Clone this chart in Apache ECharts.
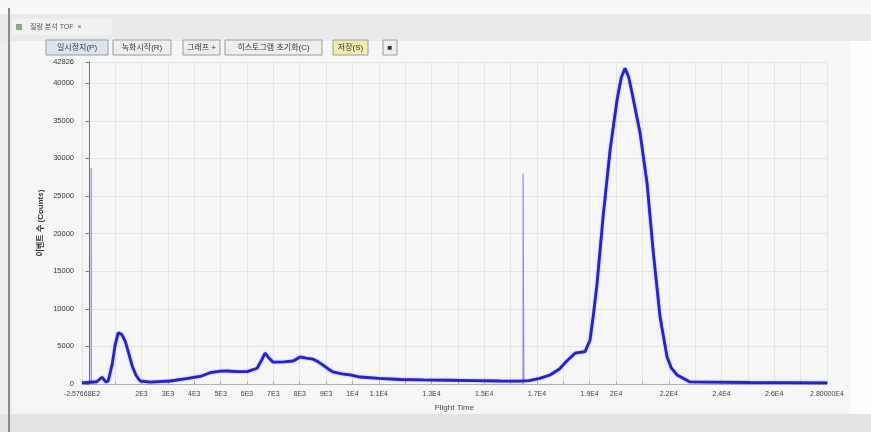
<!DOCTYPE html>
<html><head><meta charset="utf-8">
<script src="https://cdn.jsdelivr.net/npm/echarts@6/dist/echarts.min.js"></script>
<style>html,body{margin:0;padding:0;background:#efefef;}#c{width:871px;height:432px;}</style>
</head><body><div id="c"></div>
<script>
// ---- data ----
const X_MIN = -257.668;
const X_MAX = 28000;
const Y_MAX = 42826;

const flightTime = [-257.668, 300, 500, 650, 736, 887, 1000, 1115, 1250, 1380, 1520, 1646, 1800, 1949, 2328, 3086, 3700, 4223, 4602, 5000, 5247, 5650, 6006, 6385, 6560, 6688, 6820, 6992, 7400, 7750, 8016, 8250, 8509, 8700, 8888, 9080, 9267, 9600, 9912, 10291, 11000, 11808, 12700, 13704, 14600, 15600, 16358, 16700, 17100, 17496, 17850, 18141, 18444, 18824, 19013, 19150, 19279, 19506, 19772, 20037, 20200, 20340, 20480, 20606, 20909, 21175, 21403, 21668, 21934, 22100, 22313, 22806, 23500, 25081, 26500, 28000];
const counts     = [150, 300, 900, 250, 400, 2600, 5200, 6800, 6600, 5700, 4000, 2400, 1100, 400, 250, 400, 700, 1000, 1500, 1700, 1730, 1650, 1650, 2100, 3200, 4100, 3500, 2900, 2950, 3060, 3600, 3450, 3300, 2950, 2500, 2000, 1600, 1350, 1200, 930, 750, 600, 550, 500, 450, 400, 380, 450, 750, 1200, 2000, 3100, 4100, 4300, 5850, 9500, 13400, 22200, 31100, 37800, 40800, 42000, 40800, 38700, 33400, 26700, 17800, 8900, 3600, 2100, 1200, 270, 250, 200, 180, 150];

const spikeTime   = [91, 91, 96, null, 16472, 16472, 16500];
const spikeCounts = [0, 28700, 300, null, 0, 28000, 400];

const xGridValues  = [X_MIN, 1000, 2000, 3000, 4000, 5000, 6000, 7000, 8000, 9000, 10000, 11000, 12000, 13000, 14000, 15000, 16000, 17000, 18000, 19000, 20000, 21000, 22000, 23000, 24000, 25000, 26000, 27000, 28000];
const xLabelValues = [X_MIN, 2000, 3000, 4000, 5000, 6000, 7000, 8000, 9000, 10000, 11000, 13000, 15000, 17000, 19000, 20000, 22000, 24000, 26000, 28000];
const xLabelTexts  = ['-2.57668E2', '2E3', '3E3', '4E3', '5E3', '6E3', '7E3', '8E3', '9E3', '1E4', '1.1E4', '1.3E4', '1.5E4', '1.7E4', '1.9E4', '2E4', '2.2E4', '2.4E4', '2.6E4', '2.80000E4'];
const yTickValues  = [0, 5000, 10000, 15000, 20000, 25000, 30000, 35000, 40000, Y_MAX];
const yTickTexts   = ['0', '5000', '10000', '15000', '20000', '25000', '30000', '35000', '40000', '42826'];

const xTitle = 'Flight Time';
const yTitle = '이벤트 수 (Counts)';
const tabTitle = '질량 분석 TOF  ×';
const buttons = ['일시정지(P)', '녹화시작(R)', '그래프 +', '히스토그램 초기화(C)', '저장(S)', '■'];

// ---- chart ----
const mainData = flightTime.map((t, i) => [t, counts[i]]);
const spikeData = spikeTime.map((t, i) => t === null ? [null, null] : [t, spikeCounts[i]]);

function nearestText(v, vals, texts) {
  let best = 0, d = Infinity;
  vals.forEach((w, i) => { const dd = Math.abs(w - v); if (dd < d) { d = dd; best = i; } });
  return texts[best];
}

const font = 'Liberation Sans, Noto Sans CJK KR, sans-serif';
const btnPos = [[46, 62], [113, 58], [183, 37], [225, 97], [333, 35], [383, 14]];

const graphic = [
  { type: 'rect', shape: { x: 0, y: 0, width: 871, height: 14 }, style: { fill: '#f8f8f8' }, silent: true },
  { type: 'rect', shape: { x: 0, y: 14, width: 871, height: 27 }, style: { fill: '#e9e9e9' }, silent: true },
  { type: 'rect', shape: { x: 12, y: 19, width: 100, height: 16 }, style: { fill: '#f1f1f1' }, silent: true },
  { type: 'rect', shape: { x: 16, y: 24, width: 6, height: 6 }, style: { fill: '#7fb27f' }, silent: true },
  { type: 'text', x: 30, y: 27, style: { text: tabTitle, fontSize: 7, fill: '#555', fontFamily: font, verticalAlign: 'middle' }, silent: true },
  { type: 'rect', shape: { x: 12, y: 41, width: 838, height: 373 }, style: { fill: '#f6f6f6' }, silent: true },
  { type: 'rect', shape: { x: 850, y: 41, width: 21, height: 373 }, style: { fill: '#fdfdfd' }, silent: true },
  { type: 'rect', shape: { x: 0, y: 414, width: 871, height: 18 }, style: { fill: '#e2e2e2' }, silent: true },
  { type: 'line', shape: { x1: 9, y1: 8, x2: 9, y2: 432 }, style: { stroke: '#8a8a8a', lineWidth: 2 }, silent: true }
];
buttons.forEach((b, i) => {
  const [x, w] = btnPos[i];
  graphic.push({ type: 'rect', shape: { x: x, y: 40, width: w, height: 15 },
    style: { fill: i === 4 ? '#f3ecb0' : (i === 0 ? '#dde3ef' : '#eeeeee'), stroke: '#9a9a9a', lineWidth: 1 }, silent: true });
  graphic.push({ type: 'text', x: x + w / 2, y: 48,
    style: { text: b, fontSize: 8, fill: '#333', fontFamily: font, align: 'center', verticalAlign: 'middle' }, silent: true });
});

const chart = echarts.init(document.getElementById('c'), null, { renderer: 'canvas' });
chart.setOption({
  animation: false,
  backgroundColor: '#efefef',
  graphic: graphic,
  grid: { left: 82, right: 44, top: 62, bottom: 48, show: true, backgroundColor: '#ffffff', borderColor: '#a8a8a8', borderWidth: 1, containLabel: false },
  xAxis: {
    type: 'value', min: X_MIN, max: X_MAX,
    name: xTitle, nameLocation: 'middle', nameGap: 20,
    nameTextStyle: { fontSize: 8, color: '#444', fontFamily: font },
    axisLine: { show: true, lineStyle: { color: '#b0b0b0' } },
    axisTick: { show: true, customValues: xGridValues, inside: true, length: 3, lineStyle: { color: '#b0b0b0' } },
    axisLabel: { customValues: xLabelValues, fontSize: 7, color: '#444', margin: 7, fontFamily: font,
      formatter: v => nearestText(v, xLabelValues, xLabelTexts) },
    splitLine: { show: true, lineStyle: { color: '#e4e4e4', width: 1 } }
  },
  yAxis: {
    type: 'value', min: 0, max: Y_MAX,
    name: yTitle, nameLocation: 'middle', nameGap: 37, nameRotate: 90, nameMoveOverlap: false,
    nameTextStyle: { fontSize: 8, color: '#333', fontWeight: 'bold', fontFamily: font },
    axisLine: { show: true, lineStyle: { color: '#707070' } },
    axisTick: { show: true, customValues: yTickValues, length: 3, lineStyle: { color: '#707070' } },
    axisLabel: { customValues: yTickValues, fontSize: 7.5, color: '#333', margin: 8, fontFamily: font,
      formatter: v => nearestText(v, yTickValues, yTickTexts) },
    splitLine: { show: true, lineStyle: { color: '#e4e4e4', width: 1 } }
  },
  series: [
    { type: 'line', data: spikeData, showSymbol: false, connectNulls: false, z: 2,
      lineStyle: { color: '#8c8ce8', width: 1.2 } },
    { type: 'line', data: mainData, showSymbol: false, z: 3,
      lineStyle: { color: '#2424c4', width: 2.8, shadowBlur: 2, shadowColor: 'rgba(60,60,220,0.5)' } }
  ]
});
</script>
</body></html>
